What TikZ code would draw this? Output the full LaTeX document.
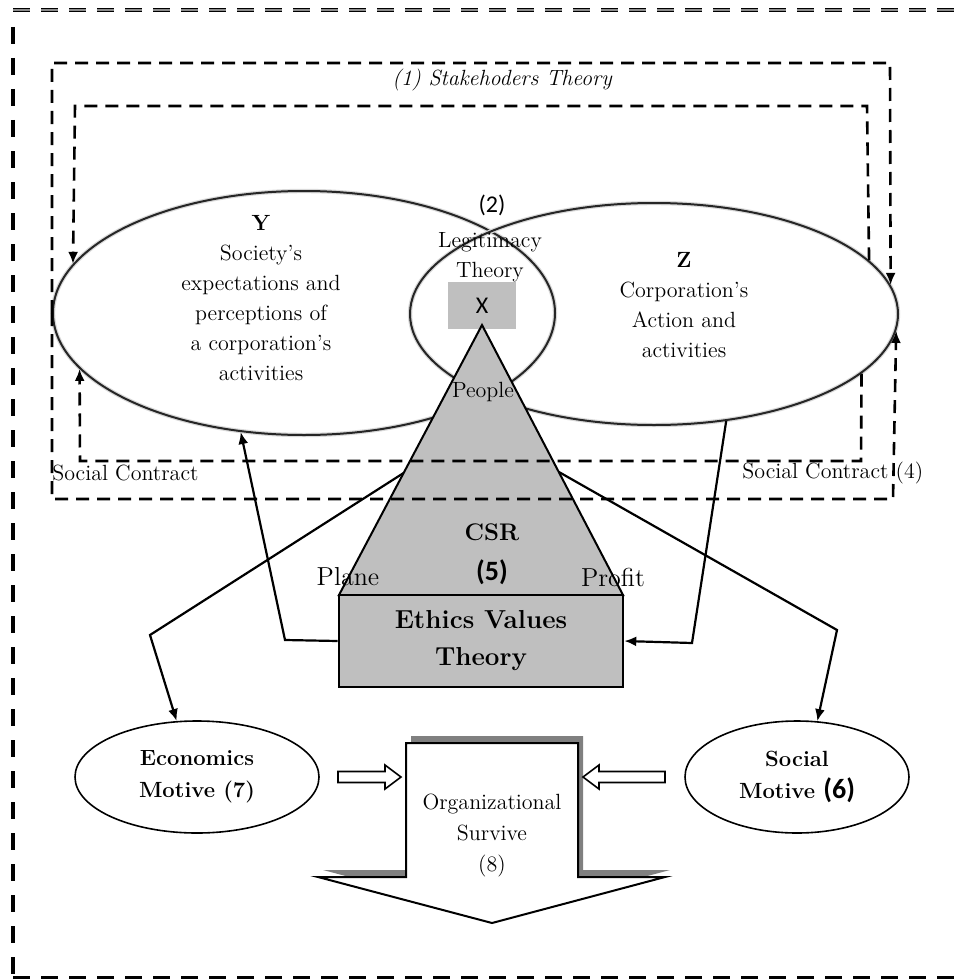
\documentclass[tikz,border=0pt]{standalone}
\usepackage{fontspec}
\newfontfamily\calib{Carlito}
\usepackage{tikz}
\usetikzlibrary{arrows.meta, calc, shapes.geometric}

\begin{document}
\begin{tikzpicture}[x=0.5pt, y=-0.5pt,
  txt/.style={font=\fontsize{11}{15}\selectfont, align=center, inner sep=0pt},
  bigoval/.style={ellipse, draw=black!85, line width=1pt,
    preaction={draw=black!15, line width=2.2pt}, inner sep=0pt},
  motive/.style={ellipse, draw, line width=0.8pt, inner sep=2pt, align=center,
    font=\fontsize{11}{16}\selectfont\bfseries},
  framedash/.style={line width=1.3pt, dash pattern=on 6.5pt off 4pt},
  tip/.style={-{Latex[length=6pt, width=5pt]}},
  link/.style={line width=1.1pt, tip},
  graybox/.style={fill=black!25}]

\useasboundingbox (0,0) rectangle (959,979);

% outer border
\draw[line width=0.6pt, double=black!45, double distance=0.8pt,
  dash pattern=on 8.5pt off 5.5pt] (13,10) -- (959,10);
\draw[line width=2pt, dash pattern=on 8.5pt off 7pt] (13,27) -- (13,977);
\draw[line width=1.5pt, dash pattern=on 8.5pt off 5.5pt] (13,977) -- (959,977);

% society and corporation
\node[bigoval, minimum width=251pt, minimum height=122pt] (Y) at (304,313) {};
\node[bigoval, minimum width=244pt, minimum height=111pt] (Z) at (654,314) {};

\node[txt] (ytxt) at (261,298) {{\bfseries Y}\\Society's\\expectations and\\perceptions of\\a corporation's\\activities};
\node[txt] (ztxt) at (684,305) {{\bfseries Z}\\Corporation's\\Action and\\activities};

\node[font=\calib\fontsize{12}{14}\selectfont] (two) at (492,205) {(2)};
\node[txt] (legit) at (490,257) {Legitimacy\\Theory};
\node[graybox, minimum width=34pt, minimum height=23.5pt, inner sep=0pt,
  font=\calib\fontsize{12}{14}\selectfont] (X) at (482,305.5) {X};

% CSR triangle
\coordinate (apex) at (482,325);
\coordinate (baseL) at (339,595);
\coordinate (baseR) at (623,595);
\draw[graybox, line width=1pt] (apex) -- (baseL) -- (baseR) -- cycle;

\node[txt] (people) at (483,392) {People};
\node[txt, font=\fontsize{12}{14}\selectfont\bfseries] (csr) at (492,532) {CSR};
\node[font=\calib\bfseries\fontsize{14}{16}\selectfont] (five) at (492,572) {(5)};
\node[font=\fontsize{13}{15}\selectfont] (plane) at (348,577) {Plane};
\node[font=\fontsize{13}{15}\selectfont] (profit) at (613,577) {Profit};

\node[graybox, draw, line width=1.3pt, minimum width=142pt, minimum height=46pt,
  align=center, font=\fontsize{13}{18.5}\selectfont\bfseries] (ethics) at (481,641) {Ethics Values\\Theory};

% stakeholders and social contract loops
\draw[framedash, tip] (Y.west) -- (52,63) -- (890,63) -- (Z.7);
\draw[framedash, tip] (Y.west) -- (52,499) -- (893,499) -- (Z.-4);
\draw[framedash, tip] (Z.14) -- (867,106) -- (75,106) -- (Y.168);
\draw[framedash, tip] (Z.-16) -- (861,461) -- (80,461) -- (Y.194);

\node[txt, font=\fontsize{11}{15}\selectfont\itshape] (stake) at (502,80) {(1) Stakehoders Theory};
\node[txt, anchor=west] (scleft) at (52,473) {Social Contract};
\node[txt, anchor=west] (scright) at (742,473) {Social Contract (4)};

% motives
\node[motive, minimum width=122pt, minimum height=56pt] (econ) at (197,777) {Economics\\Motive (7)};
\node[motive, minimum width=112pt, minimum height=56pt] (social) at (797,777) {Social\\Motive {\calib\fontsize{14}{16}\selectfont(6)}};

\coordinate (csrL) at ($(apex)!0.548!(baseL)$);
\coordinate (csrR) at ($(apex)!0.544!(baseR)$);
\draw[link] (csrL) -- (150,635) -- (econ.110);
\draw[link] (csrR) -- (837,630) -- (social.70);
\draw[link] (Z.-56) -- (692,643) -- (ethics.east);
\draw[link] (ethics.west) -- (285,640) -- (Y.242);

% organizational survive
\fill[black!50, shift={(5,-7)}] (406,743) -- (578,743) -- (578,877) -- (665,877)
  -- (492,923) -- (318,877) -- (406,877) -- cycle;
\draw[fill=white, line width=1pt] (406,743) -- (578,743) -- (578,877) -- (665,877)
  -- (492,923) -- (318,877) -- (406,877) -- cycle;
\node[txt, font=\fontsize{11}{15.5}\selectfont] (survive) at (492,836) {Organizational\\Survive\\(8)};

\draw[line width=0.8pt, fill=white] (338,771.5) -- (385,771.5) -- (385,765) -- (401,777)
  -- (385,789) -- (385,782.5) -- (338,782.5) -- cycle;
\draw[line width=0.8pt, fill=white] (665,771.5) -- (599,771.5) -- (599,765) -- (583,777)
  -- (599,789) -- (599,782.5) -- (665,782.5) -- cycle;

\end{tikzpicture}
\end{document}
